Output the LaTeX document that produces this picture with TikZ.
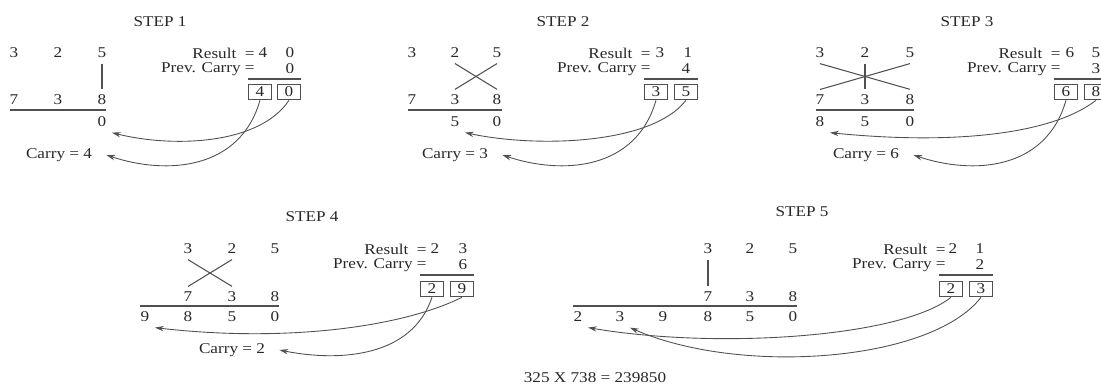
\documentclass[tikz,border=0pt]{standalone}
\usepackage{fontspec}
\setmainfont[FakeStretch=1.15]{Liberation Serif}
\definecolor{inkgray}{RGB}{80,80,80}
\definecolor{inktext}{RGB}{40,40,40}
\usetikzlibrary{arrows.meta,positioning}

\begin{document}
\begin{tikzpicture}[x=0.02cm, y=-0.02cm,
  every node/.style={font=\fontsize{8.5}{10}\selectfont, text=inktext, inner sep=3pt},
  lbl/.style={anchor=east, inner sep=0pt},
  carry/.style={inner xsep=8pt},
  sumbox/.style={draw=inkgray, line width=0.6pt, minimum width=0.46cm,
                 minimum height=0.31cm, inner sep=0pt},
  rule/.style={draw=inkgray, line width=0.7pt},
  cross/.style={draw=inkgray, line width=0.6pt},
  link/.style={-{Stealth[length=5pt, width=3pt]}, inkgray, line width=0.5pt},
]
\useasboundingbox (0,0) rectangle (1101,385);

% === STEP 1 ===
\node (h1) at (160,22) {STEP 1};
\node (s1a1) at (14,53) {3};  \node (s1a2) at (58,53) {2};  \node (s1a3) at (102,53) {5};
\node (s1b1) at (14,100) {7}; \node (s1b2) at (58,100) {3}; \node (s1b3) at (102,100) {8};
\draw[rule] (10,110) -- (106,110);
\node (s1r3) at (102,122) {0};
\node[carry] (s1c) at (59,155) {Carry = 4};
\draw[cross] (s1a3.south) -- (s1b3.north);

\node[lbl] (s1res) at (255,53) {Result\ \ =};
\node (s1rh) at (263,53) {4}; \node (s1rl) at (290,53) {0};
\node[lbl] (s1pc) at (255,69) {Prev. Carry =};
\node (s1pl) at (290,69) {0};
\draw[rule] (248,79) -- (301,79);
\node[sumbox] (s1x1) at (260,92) {4};
\node[sumbox] (s1x2) at (289,92) {0};
\draw[link] (s1x1.south) .. controls +(-20,70) and +(60,20) .. (s1c.east);
\draw[link] (s1x2.south) .. controls +(-30,45) and +(60,15) .. (s1r3.south east);

% === STEP 2 ===
\node (h2) at (563,22) {STEP 2};
\node (s2a1) at (412,53) {3};  \node (s2a2) at (455,53) {2};  \node (s2a3) at (497,53) {5};
\node (s2b1) at (412,100) {7}; \node (s2b2) at (455,100) {3}; \node (s2b3) at (497,100) {8};
\draw[rule] (408,110) -- (502,110);
\node (s2r2) at (455,122) {5}; \node (s2r3) at (497,122) {0};
\node[carry] (s2c) at (455,155) {Carry = 3};
\draw[cross] (s2a2.south) -- (s2b3.north);
\draw[cross] (s2a3.south) -- (s2b2.north);

\node[lbl] (s2res) at (651,53) {Result\ \ =};
\node (s2rh) at (660,53) {3}; \node (s2rl) at (688,53) {1};
\node[lbl] (s2pc) at (651,69) {Prev. Carry =};
\node (s2pl) at (686,69) {4};
\draw[rule] (644,79) -- (698,79);
\node[sumbox] (s2x1) at (656,92) {3};
\node[sumbox] (s2x2) at (686,92) {5};
\draw[link] (s2x1.south) .. controls +(-20,70) and +(60,20) .. (s2c.east);
\draw[link] (s2x2.south) .. controls +(-35,45) and +(70,15) .. (s2r2.south east);

% === STEP 3 ===
\node (h3) at (967,22) {STEP 3};
\node (s3a1) at (820,53) {3};  \node (s3a2) at (865,53) {2};  \node (s3a3) at (910,53) {5};
\node (s3b1) at (820,100) {7}; \node (s3b2) at (865,100) {3}; \node (s3b3) at (910,100) {8};
\draw[rule] (816,110) -- (914,110);
\node (s3r1) at (820,122) {8}; \node (s3r2) at (865,122) {5}; \node (s3r3) at (910,122) {0};
\node[carry] (s3c) at (866,155) {Carry = 6};
\draw[cross] (s3a1.south) -- (s3b3.north);
\draw[cross] (s3b1.north) -- (s3a3.south);
\draw[cross] (s3a2.south) -- (s3b2.north);

\node[lbl] (s3res) at (1061,53) {Result\ \ =};
\node (s3rh) at (1070,53) {6}; \node (s3rl) at (1096,53) {5};
\node[lbl] (s3pc) at (1061,69) {Prev. Carry =};
\node (s3pl) at (1096,69) {3};
\draw[rule] (1054,79) -- (1108,79);
\node[sumbox] (s3x1) at (1066,92) {6};
\node[sumbox] (s3x2) at (1096,92) {8};
\draw[link] (s3x1.south) .. controls +(-20,70) and +(60,20) .. (s3c.east);
\draw[link] (s3x2.south) .. controls +(-45,35) and +(120,12) .. (s3r1.south east);

% === STEP 4 ===
\node (h4) at (312,217) {STEP 4};
\node (s4a1) at (188,249) {3};  \node (s4a2) at (232,249) {2};  \node (s4a3) at (275,249) {5};
\node (s4b1) at (188,297) {7}; \node (s4b2) at (232,297) {3}; \node (s4b3) at (275,297) {8};
\draw[rule] (140,306) -- (279,306);
\node (s4r0) at (145,317) {9}; \node (s4r1) at (188,317) {8};
\node (s4r2) at (232,317) {5}; \node (s4r3) at (275,317) {0};
\node[carry] (s4c) at (232,350) {Carry = 2};
\draw[cross] (s4a1.south) -- (s4b2.north);
\draw[cross] (s4a2.south) -- (s4b1.north);

\node[lbl] (s4res) at (427,249) {Result\ \ =};
\node (s4rh) at (435,249) {2}; \node (s4rl) at (463,249) {3};
\node[lbl] (s4pc) at (427,265) {Prev. Carry =};
\node (s4pl) at (463,265) {6};
\draw[rule] (420,275) -- (474,275);
\node[sumbox] (s4x1) at (432,289) {2};
\node[sumbox] (s4x2) at (462,289) {9};
\draw[link] (s4x1.south) .. controls +(-20,60) and +(60,12) .. (s4c.east);
\draw[link] (s4x2.south) .. controls +(-60,30) and +(130,15) .. (s4r0.south east);

% === STEP 5 ===
\node (h5) at (802,212) {STEP 5};
\node (s5a1) at (708,249) {3};  \node (s5a2) at (750,249) {2};  \node (s5a3) at (793,249) {5};
\node (s5b1) at (708,297) {7}; \node (s5b2) at (750,297) {3}; \node (s5b3) at (793,297) {8};
\draw[rule] (573,306) -- (797,306);
\node (s5r1) at (578,317) {2}; \node (s5r2) at (620,317) {3}; \node (s5r3) at (663,317) {9};
\node (s5r4) at (708,317) {8}; \node (s5r5) at (750,317) {5}; \node (s5r6) at (793,317) {0};
\draw[cross] (s5a1.south) -- (s5b1.north);

\node[lbl] (s5res) at (946,249) {Result\ \ =};
\node (s5rh) at (953,249) {2}; \node (s5rl) at (980,249) {1};
\node[lbl] (s5pc) at (946,265) {Prev. Carry =};
\node (s5pl) at (980,265) {2};
\draw[rule] (939,275) -- (993,275);
\node[sumbox] (s5x1) at (951,289) {2};
\node[sumbox] (s5x2) at (981,289) {3};
\draw[link] (s5x1.south) .. controls +(-50,40) and +(130,22) .. (s5r1.south east);
\draw[link] (s5x2.south) .. controls +(-50,65) and +(110,48) .. (s5r2.south east);

% product
\node (prod) at (595,378) {325 X 738 = 239850};

\end{tikzpicture}
\end{document}
